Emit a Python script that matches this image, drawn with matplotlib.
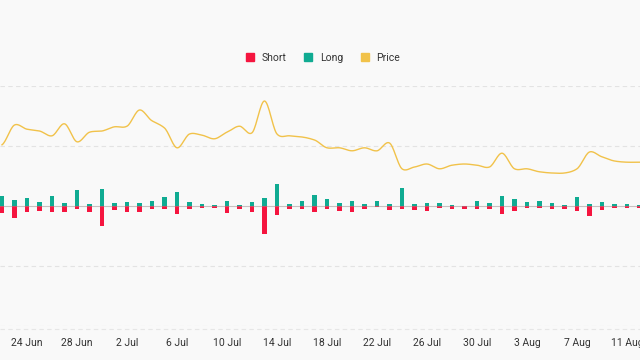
import matplotlib
matplotlib.use("Agg")
import matplotlib.pyplot as plt
import numpy as np
import pandas as pd
from matplotlib.lines import Line2D

dates = pd.date_range("2024-06-22", "2024-08-12", freq="D")

long_vals = [10, 6, 8, 4, 10, 3, 16, 2, 17, 3, 4, 3, 5, 9, 14, 4, 2, 1, 5, 1,
             4, 8, 22, 2, 5, 11, 7, 3, 5, 2, 5, 2, 18, 2, 3, 3, 1, 0.4, 5, 3,
             10, 7, 4, 5, 3, 1, 9, 2, 4, 2, 2, 1]
short_vals = [7, 12, 6, 5, 6, 6, 3, 6, 20, 4, 6, 6, 3, 3, 8, 3, 2, 2, 7, 3,
              6, 28, 9, 3, 3, 6, 3, 5, 6, 3, 1, 4, 3, 4, 5, 2, 3, 3, 3, 3,
              8, 5, 2, 2, 3, 3, 5, 10, 4, 2, 2, 2]
price_vals = [3.02, 3.35, 3.28, 3.25, 3.17, 3.37, 3.07, 3.23, 3.25, 3.32, 3.33, 3.60,
              3.42, 3.30, 2.97, 3.20, 3.18, 3.12, 3.23, 3.33, 3.22, 3.75, 3.20, 3.17,
              3.15, 3.10, 2.97, 2.97, 2.92, 2.97, 2.92, 3.05, 2.62, 2.65, 2.70, 2.62,
              2.68, 2.70, 2.68, 2.65, 2.88, 2.62, 2.62, 2.57, 2.55, 2.55, 2.62, 2.90,
              2.82, 2.75, 2.73, 2.73]
tick_labels = ["24 Jun", "28 Jun", "2 Jul", "6 Jul", "10 Jul", "14 Jul", "18 Jul",
               "22 Jul", "26 Jul", "30 Jul", "3 Aug", "7 Aug", "11 Aug"]

BG = "#f9f9f9"
RED = "#f5153f"
GREEN = "#10ab92"
GOLD = "#f1c24a"

plt.rcParams["font.family"] = ["Roboto", "DejaVu Sans"]

fig = plt.figure(figsize=(6.4, 3.6), dpi=100, facecolor=BG)
ax = fig.add_axes([0, 34 / 360, 1, 240 / 360])
ax.set_facecolor(BG)

x = np.arange(len(dates))
day_px = 12.5
left = -2 / day_px
ax.set_xlim(left, left + 640 / day_px)

# bars
ax.set_ylim(-120, 120)
ax.bar(x, long_vals, width=0.36, color=GREEN, zorder=3)
ax.bar(x, [-v for v in short_vals], width=0.36, color=RED, zorder=3)
ax.axhline(0, color="#9a8a8a", lw=0.8, alpha=0.5, zorder=4)
for yv in [-120, -60, 60, 120]:
    ax.axhline(yv, color="#e3e3e3", lw=0.8, ls=(0, (4, 3)), zorder=1)
ax.axhline(-123, color="#e6e6e6", lw=0.8, ls=(0, (4, 3)), clip_on=False, zorder=1)

for s in ax.spines.values():
    s.set_visible(False)
ax.set_yticks([])

tick_idx = [2 + 4 * i for i in range(len(tick_labels))]
ax.set_xticks(tick_idx)
ax.set_xticklabels(tick_labels, fontsize=7.5, color="#333333")
ax.tick_params(axis="x", length=0, pad=9)

# price
ax2 = ax.twinx()
ax2.set_ylim(0, 4)
xs = np.linspace(0, len(x) - 1, 800)
p = np.array(price_vals)
def catmull(xq):
    i = np.clip(np.floor(xq).astype(int), 0, len(p) - 2)
    t = xq - i
    p0 = p[np.clip(i - 1, 0, len(p) - 1)]
    p1 = p[i]
    p2 = p[i + 1]
    p3 = p[np.clip(i + 2, 0, len(p) - 1)]
    m1 = (p2 - p0) / 2 * 0.8
    m2 = (p3 - p1) / 2 * 0.8
    t2, t3 = t * t, t * t * t
    return (2 * t3 - 3 * t2 + 1) * p1 + (t3 - 2 * t2 + t) * m1 + (-2 * t3 + 3 * t2) * p2 + (t3 - t2) * m2
ax2.plot(xs, catmull(xs), color=GOLD, lw=1.0, zorder=5)
ax2.set_yticks([])
for s in ax2.spines.values():
    s.set_visible(False)

handles = [Line2D([], [], marker="s", ls="", color=RED, markersize=6),
           Line2D([], [], marker="s", ls="", color=GREEN, markersize=6),
           Line2D([], [], marker="s", ls="", color=GOLD, markersize=6)]
fig.legend(handles, ["Short", "Long", "Price"], loc="center", bbox_to_anchor=(0.5, 1 - 58 / 360),
           ncol=3, frameon=False, fontsize=7.5, handletextpad=0.1, columnspacing=1.1,
           labelcolor="#333333")

fig.savefig("out.png", dpi=100, facecolor=BG)
